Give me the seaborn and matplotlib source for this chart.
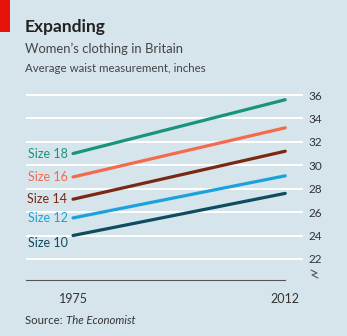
import matplotlib
matplotlib.use("Agg")
import matplotlib.pyplot as plt
import seaborn as sns
import pandas as pd
from matplotlib.lines import Line2D
from matplotlib.patches import Rectangle

years = [1975, 2012]
sizes = ["Size 10", "Size 12", "Size 14", "Size 16", "Size 18"]
waist_1975 = [24.0, 25.5, 27.1, 29.0, 31.0]
waist_2012 = [27.6, 29.1, 31.2, 33.2, 35.6]
colors = ["#0e4c60", "#1ba2dc", "#7b2812", "#f46a4c", "#17957c"]
yticks = [22, 24, 26, 28, 30, 32, 34, 36]

rows = []
for s, a, b in zip(sizes, waist_1975, waist_2012):
    rows.append({"year": years[0], "waist": a, "size": s})
    rows.append({"year": years[1], "waist": b, "size": s})
df = pd.DataFrame(rows)

sns.set_theme(style="white")
FONT = ["Lato", "DejaVu Sans"]
plt.rcParams["font.family"] = FONT
BG = "#d6e4ec"

fig = plt.figure(figsize=(3.47, 3.36), dpi=100, facecolor=BG)
ax = fig.add_axes([26 / 347, 1 - 280 / 336, 277 / 347, (280 - 88) / 336])
ax.set_facecolor(BG)

sns.lineplot(data=df, x="year", y="waist", hue="size", palette=dict(zip(sizes, colors)),
             linewidth=2.3, legend=False, ax=ax, zorder=3)

ax.set_xlim(1966.8, 2015.1)
ax.set_ylim(20.2, 36.6)
ax.set_yticks(yticks)
ax.yaxis.tick_right()
ax.yaxis.set_label_position("right")
ax.tick_params(axis="y", length=0, pad=4, labelsize=8.5, labelcolor="#333333")
ax.grid(axis="y", color="white", linewidth=1.4, zorder=1)
ax.set_xticks(years)
ax.set_xticklabels([])
ax.tick_params(axis="x", direction="in", length=4, width=0.8, color="#555555")
ax.set_xlabel("")
ax.set_ylabel("")
for sp in ["top", "right", "left"]:
    ax.spines[sp].set_visible(False)
ax.spines["bottom"].set_color("#555555")
ax.spines["bottom"].set_linewidth(0.8)
ax.spines["bottom"].set_bounds(1966.8, 2012)

for s, a, c in zip(sizes, waist_1975, colors):
    off = -0.6 if s == "Size 10" else 0.0
    ax.annotate(s, xy=(years[0], a + off), xytext=(-4, 0), textcoords="offset points",
                ha="right", va="center", fontsize=9, color=c, fontfamily=FONT)

for yr in years:
    ax.annotate(str(yr), xy=(yr, 0), xycoords=("data", "axes fraction"), xytext=(0, -14),
                textcoords="offset points", ha="center", va="center", fontsize=9,
                color="#333333")

# break symbol
fig.add_artist(Line2D([311 / 347, 317 / 347, 312 / 347, 318 / 347],
                      [1 - 270 / 336, 1 - 273 / 336, 1 - 275 / 336, 1 - 278 / 336],
                      color="#555555", linewidth=0.8))

fig.add_artist(Rectangle((0, 1 - 32 / 336), 10 / 347, 32 / 336, transform=fig.transFigure,
                         color="#e3120b", linewidth=0))
fig.text(25 / 347, 1 - 27 / 336, "Expanding", fontsize=12.5, fontweight="bold",
         color="#222222", va="center", ha="left")
fig.text(25 / 347, 1 - 49 / 336, "Women\u2019s clothing in Britain", fontsize=9.4,
         color="#444444", va="center", ha="left")
fig.text(25 / 347, 1 - 68 / 336, "Average waist measurement, inches", fontsize=8.3,
         color="#444444", va="center", ha="left")
t = fig.text(25 / 347, 1 - 321 / 336, "Source: ", fontsize=8.2, color="#333333",
             va="center", ha="left")
fig.canvas.draw()
bb = t.get_window_extent()
fig.text(bb.x1 / fig.bbox.width, 1 - 321 / 336, "The Economist", fontsize=8.2,
         color="#333333", va="center", ha="left", style="italic")

fig.savefig("out.png", dpi=100, facecolor=BG)
